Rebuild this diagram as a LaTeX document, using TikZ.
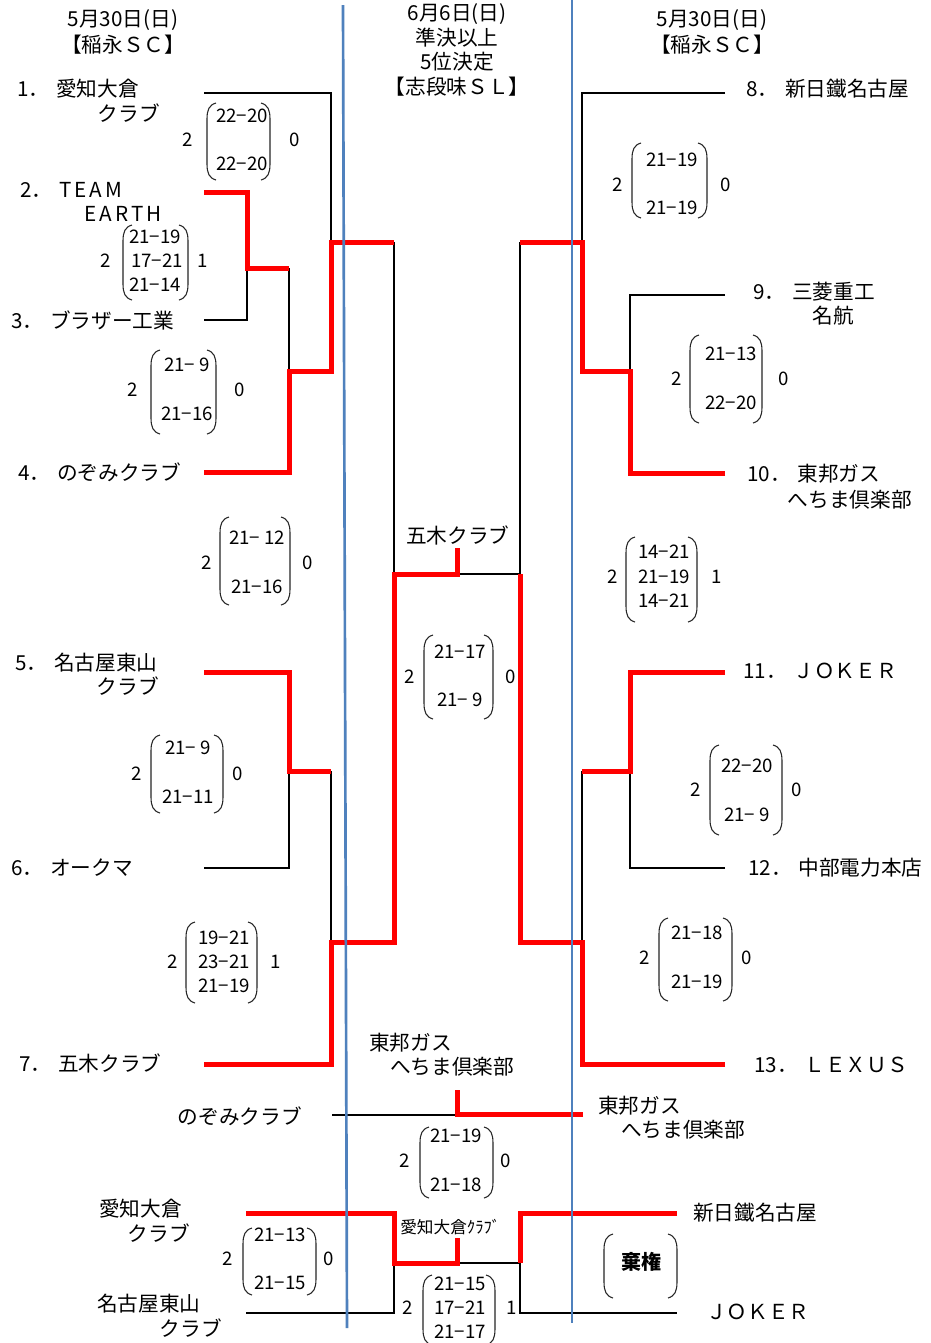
\documentclass[tikz,border=0pt]{standalone}
\usepackage{fontspec}
\setmainfont{Noto Sans CJK JP}
\definecolor{bluecol}{RGB}{79,129,189}
\definecolor{redcol}{RGB}{255,0,0}
\tikzset{
 nm/.style={font=\fontsize{15.5}{18}\selectfont, inner sep=0pt},
 smallnm/.style={font=\fontsize{12.5}{15}\selectfont, inner sep=0pt},
 sc/.style={font=\fontsize{14}{16}\selectfont, inner sep=0pt},
 redl/.style={draw=redcol, line width=3.75pt},
 blk/.style={draw=black, line width=1.5pt},
 bluel/.style={draw=bluecol, line width=2pt},
 parenl/.style={draw=black!85, line width=0.8pt},
}
\newcommand\brkt[4]{%
 \draw[parenl] ({#1+9},#3) .. controls ({#1+2},{#3+2}) and (#1,{#3+7}) .. (#1,{#3+16}) -- (#1,{#4-16}) .. controls (#1,{#4-7}) and ({#1+2},{#4-2}) .. ({#1+9},#4);
 \draw[parenl] ({#2-9},#3) .. controls ({#2-2},{#3+2}) and (#2,{#3+7}) .. (#2,{#3+16}) -- (#2,{#4-16}) .. controls (#2,{#4-7}) and ({#2-2},{#4-2}) .. ({#2-9},#4);
}
\newcommand\gp{\hspace{5pt}}
\newcommand\wideltr{\addfontfeature{LetterSpace=15}}
\begin{document}
\begin{tikzpicture}[x=0.75pt,y=-0.75pt]
\fill[white] (0,0) rectangle (931,1343);
\useasboundingbox (0,0) rectangle (931,1343);

% ---- titles
\node[nm] (tl1) at (123,20) {5月30日(日)};
\node[nm] (tl2) at (123,45) {【稲永ＳＣ】};
\node[nm] (tr1) at (712,20) {5月30日(日)};
\node[nm] (tr2) at (712,45) {【稲永ＳＣ】};
\node[nm] (tc1) at (457,14) {6月6日(日)};
\node[nm] (tc2) at (457,38) {準決以上};
\node[nm] (tc3) at (457,62) {5位決定};
\node[nm] (tc4) at (457,87) {【志段味ＳＬ】};

% ---- black lines
\draw[blk] (204,93) -- (331,93) -- (331,242);
\draw[blk] (204,320) -- (247,320) -- (247,268);
\draw[blk] (289,268) -- (289,371);
\draw[blk] (394,242) -- (394,574) -- (520,574) -- (520,242);
\draw[blk] (204,868) -- (289,868) -- (289,771);
\draw[blk] (331,771) -- (331,942);
\draw[blk] (725,93) -- (582,93) -- (582,242);
\draw[blk] (725,295) -- (630,295) -- (630,371);
\draw[blk] (725,868) -- (630,868) -- (630,771);
\draw[blk] (582,771) -- (582,942);
\draw[blk] (332,1115) -- (457,1115);
\draw[blk] (457,1263) -- (520,1263) -- (520,1313) -- (677,1313);
\draw[blk] (246,1313) -- (394,1313) -- (394,1263);

% ---- red lines
\draw[redl] (204,192) -- (247,192) -- (247,268) -- (289,268);
\draw[redl] (204,472) -- (289,472) -- (289,371) -- (331,371) -- (331,242) -- (394,242);
\draw[redl] (204,672) -- (289,672) -- (289,771) -- (331,771);
\draw[redl] (204,1064) -- (331,1064) -- (331,942) -- (394,942) -- (394,574) -- (457,574) -- (457,548);
\draw[redl] (725,473) -- (630,473) -- (630,371) -- (582,371) -- (582,242) -- (520,242);
\draw[redl] (725,672) -- (630,672) -- (630,771) -- (582,771);
\draw[redl] (725,1064) -- (582,1064) -- (582,942) -- (520,942) -- (520,574);
\draw[redl] (583,1114) -- (457,1114) -- (457,1090);
\draw[redl] (246,1213) -- (394,1213) -- (394,1263) -- (457,1263) -- (457,1238);
\draw[redl] (677,1213) -- (520,1213) -- (520,1263);

% ---- blue lines
\draw[bluel] (343,5) -- (347,1328);
\draw[bluel] (572,0) -- (572,1323);

% ---- team labels left
\node[nm,anchor=west] (n1) at (17,89) {1．\gp 愛知大倉};
\node[nm,anchor=east] (n1b) at (160,113) {クラブ};
\node[nm,anchor=west] (n2) at (20,190) {2．\gp {\wideltr TEAM}};
\node[nm,anchor=east] (n2b) at (162,214) {\wideltr EARTH};
\node[nm,anchor=west] (n3) at (11,320) {3．\gp ブラザー工業};
\node[nm,anchor=west] (n4) at (18,472) {4．\gp のぞみクラブ};
\node[nm,anchor=west] (n5) at (15,663) {5．\gp 名古屋東山};
\node[nm,anchor=east] (n5b) at (159,686) {クラブ};
\node[nm,anchor=west] (n6) at (11,868) {6．\gp オークマ};
\node[nm,anchor=west] (n7) at (19,1063) {7．\gp 五木クラブ};

% ---- team labels right
\node[nm,anchor=west] (n8) at (746,89) {8．\gp 新日鐵名古屋};
\node[nm,anchor=west] (n9) at (753,292) {9．\gp 三菱重工};
\node[nm,anchor=east] (n9b) at (854,316) {名航};
\node[nm,anchor=west] (n10) at (747,474) {10．\gp 東邦ガス};
\node[nm,anchor=east] (n10b) at (912,500) {へちま倶楽部};
\node[nm,anchor=west] (n11) at (743,671) {11．\gp ＪＯＫＥＲ};
\node[nm,anchor=west] (n12) at (748,868) {12．\gp 中部電力本店};
\node[nm,anchor=west] (n13) at (754,1065) {13．\gp ＬＥＸＵＳ};

% ---- center / bottom labels
\node[nm,anchor=west] (w1) at (406,535) {五木クラブ};
\node[nm,anchor=west] (c1) at (369,1043) {東邦ガス};
\node[nm,anchor=west] (c1b) at (390,1067) {へちま倶楽部};
\node[nm,anchor=east] (c2) at (302,1116) {のぞみクラブ};
\node[nm,anchor=west] (c3) at (598,1106) {東邦ガス};
\node[nm,anchor=west] (c3b) at (621,1130) {へちま倶楽部};
\node[nm,anchor=west] (c4) at (99,1209) {愛知大倉};
\node[nm,anchor=east] (c4b) at (190,1233) {クラブ};
\node[nm,anchor=west] (c5) at (97,1304) {名古屋東山};
\node[nm,anchor=east] (c5b) at (222,1328) {クラブ};
\node[nm,anchor=west] (c6) at (693,1213) {新日鐵名古屋};
\node[nm,anchor=west] (c7) at (706,1312) {ＪＯＫＥＲ};
\node[smallnm,anchor=west] (c8) at (400,1227) {愛知大倉ｸﾗﾌﾞ};

% ---- scores
% S1
\brkt{207}{270}{103}{180}
\node[sc] (s1l) at (188,140) {2};
\node[sc] (s1a) at (242,116) {22−20};
\node[sc] (s1b) at (242,164) {22−20};
\node[sc] (s1r) at (295,140) {0};
% S2
\brkt{123}{188}{225}{300}
\node[sc] (s2l) at (106,261) {2};
\node[sc] (s2a) at (155,237) {21−19};
\node[sc] (s2b) at (157,261) {17−21};
\node[sc] (s2c) at (155,285) {21−14};
\node[sc] (s2r) at (203,261) {1};
% S3
\brkt{151}{216}{350}{434}
\node[sc] (s3l) at (133,390) {2};
\node[sc] (s3a) at (187,365) {21− 9};
\node[sc] (s3b) at (187,414) {21−16};
\node[sc] (s3r) at (240,390) {0};
% S4
\brkt{220}{290}{517}{605}
\node[sc] (s4l) at (207,563) {2};
\node[sc] (s4a) at (257,538) {21− 12};
\node[sc] (s4b) at (257,587) {21−16};
\node[sc] (s4r) at (308,563) {0};
% S5
\brkt{151}{223}{735}{813}
\node[sc] (s5l) at (137,774) {2};
\node[sc] (s5a) at (188,748) {21− 9};
\node[sc] (s5b) at (188,797) {21−11};
\node[sc] (s5r) at (238,774) {0};
% S6
\brkt{186}{257}{922}{1003}
\node[sc] (s6l) at (173,962) {2};
\node[sc] (s6a) at (224,938) {19−21};
\node[sc] (s6b) at (224,962) {23−21};
\node[sc] (s6c) at (224,986) {21−19};
\node[sc] (s6r) at (276,962) {1};
% S7
\brkt{632}{707}{143}{218}
\node[sc] (s7l) at (618,185) {2};
\node[sc] (s7a) at (672,160) {21−19};
\node[sc] (s7b) at (672,208) {21−19};
\node[sc] (s7r) at (726,185) {0};
% S8
\brkt{690}{762}{335}{423}
\node[sc] (s8l) at (677,379) {2};
\node[sc] (s8a) at (731,354) {21−13};
\node[sc] (s8b) at (731,403) {22−20};
\node[sc] (s8r) at (784,379) {0};
% S9
\brkt{626}{697}{537}{622}
\node[sc] (s9l) at (613,577) {2};
\node[sc] (s9a) at (664,552) {14−21};
\node[sc] (s9b) at (664,577) {21−19};
\node[sc] (s9c) at (664,601) {14−21};
\node[sc] (s9r) at (717,577) {1};
% S10
\brkt{710}{782}{745}{835}
\node[sc] (s10l) at (696,790) {2};
\node[sc] (s10a) at (747,766) {22−20};
\node[sc] (s10b) at (747,815) {21− 9};
\node[sc] (s10r) at (797,790) {0};
% S11
\brkt{659}{732}{918}{1001}
\node[sc] (s11l) at (645,958) {2};
\node[sc] (s11a) at (697,933) {21−18};
\node[sc] (s11b) at (697,982) {21−19};
\node[sc] (s11r) at (747,958) {0};
% S12
\brkt{424}{493}{635}{719}
\node[sc] (s12l) at (410,677) {2};
\node[sc] (s12a) at (460,652) {21−17};
\node[sc] (s12b) at (460,700) {21− 9};
\node[sc] (s12r) at (511,677) {0};
% S13
\brkt{420}{493}{1127}{1198}
\node[sc] (s13l) at (405,1161) {2};
\node[sc] (s13a) at (456,1136) {21−19};
\node[sc] (s13b) at (456,1185) {21−18};
\node[sc] (s13r) at (506,1161) {0};
% S14
\brkt{243}{316}{1228}{1295}
\node[sc] (s14l) at (228,1259) {2};
\node[sc] (s14a) at (280,1235) {21−13};
\node[sc] (s14b) at (280,1283) {21−15};
\node[sc] (s14r) at (329,1259) {0};
% S15
\brkt{423}{495}{1275}{1345}
\node[sc] (s15l) at (408,1308) {2};
\node[sc] (s15a) at (460,1284) {21−15};
\node[sc] (s15b) at (460,1308) {17−21};
\node[sc] (s15c) at (460,1332) {21−17};
\node[sc] (s15r) at (512,1308) {1};
% S16
\brkt{604}{677}{1234}{1298}
\node[nm,font=\fontsize{15}{18}\selectfont\bfseries] (s16) at (641,1262) {棄権};
\end{tikzpicture}
\end{document}
